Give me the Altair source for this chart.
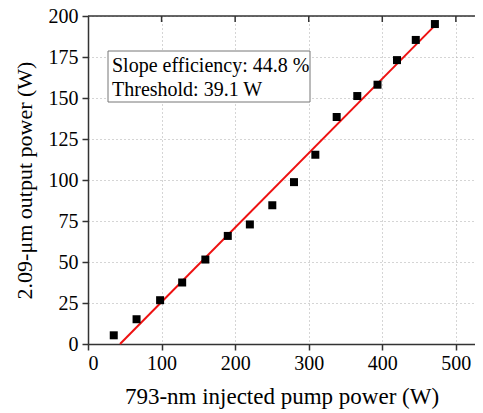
import altair as alt
import pandas as pd

pump = [35, 66, 98, 128, 159.5, 190, 220, 250.5, 280, 309, 338, 366, 393.5, 420, 445.5, 471.5]
output = [5.3, 15.1, 26.7, 37.5, 51.5, 65.9, 72.9, 84.6, 98.7, 115.4, 138.4, 151.2, 158.1, 173.1, 185.4, 195.1]
fit_x = [43.5, 470]
fit_y = [0, 193.5]
x_ticks = [0, 100, 200, 300, 400, 500]
y_ticks = [0, 25, 50, 75, 100, 125, 150, 175, 200]
notes = ["Slope efficiency: 44.8 %", "Threshold: 39.1 W"]

FONT = "Liberation Serif"
pts = pd.DataFrame({"x": pump, "y": output})
fit = pd.DataFrame({"x": fit_x, "y": fit_y})
ticks = pd.DataFrame({"x": x_ticks[1:]})
one = pd.DataFrame({"a": [0]})

xs = alt.Scale(domain=[0, 526], nice=False, zero=False)
ys = alt.Scale(domain=[0, 200], nice=False)

xaxis = alt.Axis(values=x_ticks, grid=True, gridDash=[1, 3], gridColor="#aaaaaa",
                 labelFont=FONT, labelFontSize=20, labelColor="black",
                 titleFont=FONT, titleFontSize=23, titleFontWeight="normal", titleColor="black",
                 domainColor="#333333", domainWidth=1.5, tickColor="#333333", tickWidth=1.5,
                 tickSize=6, labelPadding=3, titlePadding=12)
yaxis = alt.Axis(values=y_ticks, grid=True, gridDash=[1, 3], gridColor="#aaaaaa",
                 labelFont=FONT, labelFontSize=20, labelColor="black",
                 titleFont=FONT, titleFontSize=22, titleFontWeight="normal", titleColor="black",
                 domainColor="#333333", domainWidth=1.5, tickColor="#333333", tickWidth=1.5,
                 tickSize=6, labelPadding=4, titlePadding=12)

points = alt.Chart(pts).mark_point(shape="square", filled=True, color="black", size=64, opacity=1).encode(
    x=alt.X("x:Q", scale=xs, axis=xaxis, title="793-nm injected pump power (W)"),
    y=alt.Y("y:Q", scale=ys, axis=yaxis, title="2.09-μm output power (W)"),
)

line = alt.Chart(fit).mark_line(color="#ee1111", strokeWidth=2).encode(
    x=alt.X("x:Q", scale=xs), y=alt.Y("y:Q", scale=ys)
)

top_line = alt.Chart(one).mark_rule(color="#333333", strokeWidth=1.5).encode(
    x=alt.value(0), x2=alt.value(400), y=alt.value(0)
)
top_ticks = alt.Chart(ticks).mark_rule(color="#333333", strokeWidth=1.5).encode(
    x=alt.X("x:Q", scale=xs), y=alt.value(0), y2=alt.value(6)
)

box = alt.Chart(one).mark_rect(fill="white", stroke="#777777", strokeWidth=1).encode(
    x=alt.value(20), x2=alt.value(222), y=alt.value(35), y2=alt.value(86)
)
txt1 = alt.Chart(one).mark_text(
    font=FONT, fontSize=20, color="black", align="left", baseline="alphabetic", text=notes[0]
).encode(x=alt.value(24), y=alt.value(56))
txt2 = alt.Chart(one).mark_text(
    font=FONT, fontSize=20, color="black", align="left", baseline="alphabetic", text=notes[1]
).encode(x=alt.value(24), y=alt.value(80))

chart = alt.layer(line, points, top_line, top_ticks, box, txt1, txt2).properties(
    width=387, height=328,
    autosize=alt.AutoSizeParams(type="none"),
    padding={"left": 80, "top": 8, "right": 0, "bottom": 68},
).configure_view(stroke=None)

chart.save("out.html", embed_options={"renderer": "svg", "actions": False})
